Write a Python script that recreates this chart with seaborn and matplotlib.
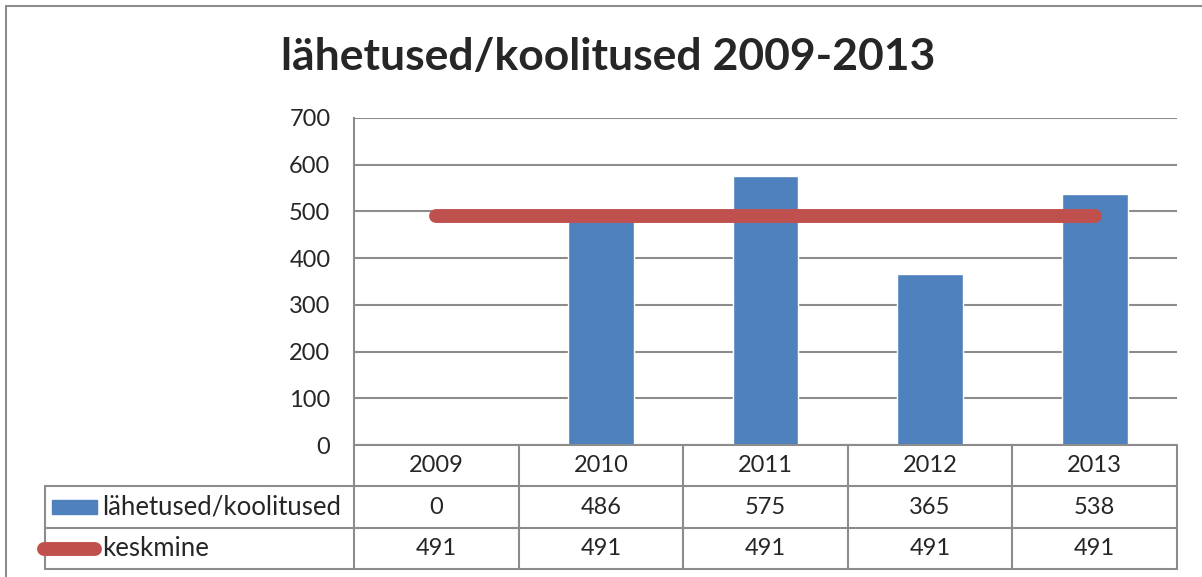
import matplotlib
matplotlib.use("Agg")
import matplotlib.pyplot as plt
import numpy as np
import pandas as pd
import seaborn as sns

# andmed
aastad = ["2009", "2010", "2011", "2012", "2013"]
lahetused = [0, 486, 575, 365, 538]
keskmine = [491, 491, 491, 491, 491]
yticks = [0, 100, 200, 300, 400, 500, 600, 700]

sinine = "#4F81BD"
punane = "#C0504D"
hall = "#8C8C8C"

sns.set_style("white")
plt.rcParams["font.family"] = ["Lato", "DejaVu Sans"]

W, H = 1202, 577
fig = plt.figure(figsize=(W / 100, H / 100), dpi=100)

# joonise ala pikslites
x0, x1 = 354, 1177
y_top, y_zero = 118, 445
ax = fig.add_axes([x0 / W, 1 - y_zero / H, (x1 - x0) / W, (y_zero - y_top) / H])

df = pd.DataFrame({"aasta": aastad, "lahetused": lahetused})
sns.barplot(data=df, x="aasta", y="lahetused", color=sinine, width=0.4,
            saturation=1, ax=ax, zorder=3)
sns.lineplot(x=np.arange(len(aastad)), y=keskmine, ax=ax, color=punane,
             linewidth=10, solid_capstyle="round", zorder=4)

ax.set_xlim(-0.5, len(aastad) - 0.5)
ax.set_ylim(0, 700)
ax.set_yticks(yticks)
ax.set_yticklabels([str(t) for t in yticks], fontsize=17)
ax.set_xticks([])
ax.set_xlabel("")
ax.set_ylabel("")
ax.tick_params(axis="y", length=0, pad=17)
for t in yticks:
    ax.axhline(t, color=hall, linewidth=1.5, zorder=1)
for s in ["top", "right", "bottom"]:
    ax.spines[s].set_visible(False)
ax.spines["left"].set_color(hall)
ax.spines["left"].set_linewidth(1.5)

# pealkiri
fig.text(0.5 * (287 + 930) / W, 1 - 57 / H, "lähetused/koolitused 2009-2013",
         ha="center", va="center", fontsize=32, fontweight="bold")

# andmetabel (pikslite koordinaadid)
tax = fig.add_axes([0, 0, 1, 1], zorder=5)
tax.set_xlim(0, W)
tax.set_ylim(H, 0)
tax.axis("off")
tax.patch.set_alpha(0)

ridade_y = [445, 486, 528, 569]
tab_left = 45
col_w = (x1 - x0) / len(aastad)
col_x = [x0 + i * col_w for i in range(len(aastad) + 1)]

lw = 1.5
tax.plot([x0, x1], [ridade_y[0], ridade_y[0]], color=hall, lw=lw)
for yy in ridade_y[1:]:
    tax.plot([tab_left, x1], [yy, yy], color=hall, lw=lw)
tax.plot([tab_left, tab_left], [ridade_y[1], ridade_y[3]], color=hall, lw=lw)
for xx in col_x:
    tax.plot([xx, xx], [ridade_y[0], ridade_y[3]], color=hall, lw=lw)

fs = 17
for i, a in enumerate(aastad):
    cx = col_x[i] + col_w / 2
    tax.text(cx, (ridade_y[0] + ridade_y[1]) / 2, a, ha="center", va="center", fontsize=fs)
    tax.text(cx, (ridade_y[1] + ridade_y[2]) / 2, str(lahetused[i]), ha="center", va="center", fontsize=fs)
    tax.text(cx, (ridade_y[2] + ridade_y[3]) / 2, str(keskmine[i]), ha="center", va="center", fontsize=fs)

# legendi võtmed
r1 = (ridade_y[1] + ridade_y[2]) / 2
r2 = (ridade_y[2] + ridade_y[3]) / 2
tax.add_patch(plt.Rectangle((52, r1 - 7), 45, 14, color=sinine))
tax.text(102, r1, "lähetused/koolitused", ha="left", va="center", fontsize=18.5)
tax.plot([44, 95], [r2, r2], color=punane, lw=10, solid_capstyle="round")
tax.text(102, r2, "keskmine", ha="left", va="center", fontsize=18.5)

# välimine raam
tax.plot([6, W], [6, 6], color=hall, lw=1.5)
tax.plot([6, 6], [6, H], color=hall, lw=1.5)

fig.savefig("out.png", dpi=100)
